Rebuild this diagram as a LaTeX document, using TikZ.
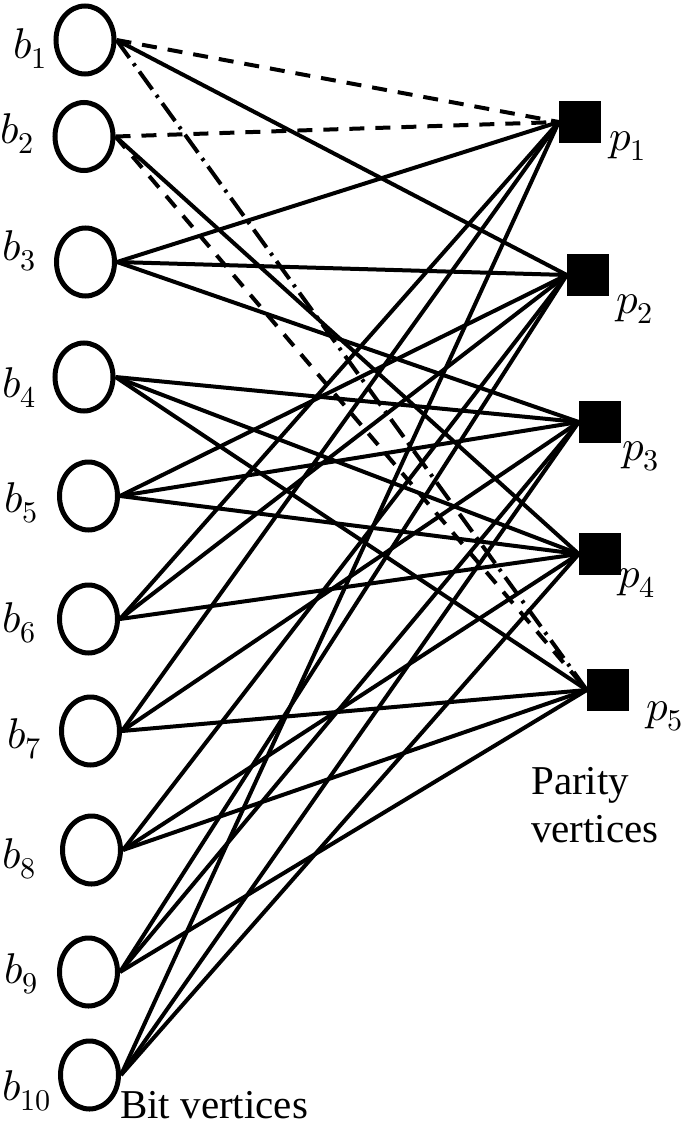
\documentclass[tikz,border=0pt]{standalone}
\usepackage{fontspec}
\usepackage{unicode-math}
\setmainfont{Liberation Serif}
\setmathfont{Latin Modern Math}
\usetikzlibrary{shapes.geometric}
\begin{document}
\begin{tikzpicture}[x=1pt,y=-1pt,
  bit/.style={draw, line width=5pt, ellipse, minimum width=58pt, minimum height=68pt, inner sep=0pt},
  par/.style={fill=black, rectangle, minimum size=42pt, inner sep=0pt},
  blab/.style={anchor=base west, inner sep=0pt, font=\fontsize{43}{50}\selectfont},
  txt/.style={anchor=base west, inner sep=0pt, align=left, font=\fontsize{41}{48}\selectfont},
  edge/.style={line width=4pt},
  dashedge/.style={line width=4pt, dash pattern=on 15pt off 11pt},
  dotedge/.style={line width=4pt, dash pattern=on 22pt off 7pt on 3pt off 7pt}]
\useasboundingbox (0,0) rectangle (685,1135);
% bit vertices
\node[bit] (b1) at (85,40) {};
\node[bit] (b2) at (84,136.5) {};
\node[bit] (b3) at (85.5,262) {};
\node[bit] (b4) at (84,377) {};
\node[bit] (b5) at (88.5,496) {};
\node[bit] (b6) at (88.5,619) {};
\node[bit] (b7) at (90.5,731) {};
\node[bit] (b8) at (91.5,850) {};
\node[bit] (b9) at (88.5,972) {};
\node[bit] (b10) at (89.5,1075) {};
% parity vertices
\node[par] (p1) at (580,122) {};
\node[par] (p2) at (588,275) {};
\node[par] (p3) at (600,422) {};
\node[par] (p4) at (600,554) {};
\node[par] (p5) at (608,690) {};
% labels
\node[blab] (lb1) at (13,58) {$b_1$};
\node[blab] (lb2) at (0,143) {$b_2$};
\node[blab] (lb3) at (2,260) {$b_3$};
\node[blab] (lb4) at (2,397) {$b_4$};
\node[blab] (lb5) at (4,512) {$b_5$};
\node[blab] (lb6) at (2,632) {$b_6$};
\node[blab] (lb7) at (7,748) {$b_7$};
\node[blab] (lb8) at (2,868) {$b_8$};
\node[blab] (lb9) at (4,983) {$b_9$};
\node[blab] (lb10) at (2,1100) {$b_{10}$};
\node[blab] (lp1) at (609,150) {$p_1$};
\node[blab] (lp2) at (616,313) {$p_2$};
\node[blab] (lp3) at (622,460) {$p_3$};
\node[blab] (lp4) at (618,587) {$p_4$};
\node[blab] (lp5) at (646,720) {$p_5$};
\node[txt] (parity) at (531,842) {Parity\\vertices};
\node[txt] (bitv) at (120,1118) {Bit vertices};
% edges
\draw[dashedge] (b1.east) -- (p1.west);
\draw[edge] (b1.east) -- (p2.west);
\draw[dotedge] (b1.east) -- (p5.west);
\draw[dashedge] (b2.east) -- (p1.west);
\draw[edge] (b2.east) -- (p4.west);
\draw[dashedge] (b2.east) -- (p5.west);
\foreach \b/\p in {3/1,3/2,3/3, 4/3,4/4,4/5, 5/2,5/3,5/4, 6/1,6/2,6/4, 7/1,7/3,7/5, 8/2,8/4,8/5, 9/2,9/3,9/5, 10/1,10/3,10/4}
  \draw[edge] (b\b.east) -- (p\p.west);
\end{tikzpicture}
\end{document}
